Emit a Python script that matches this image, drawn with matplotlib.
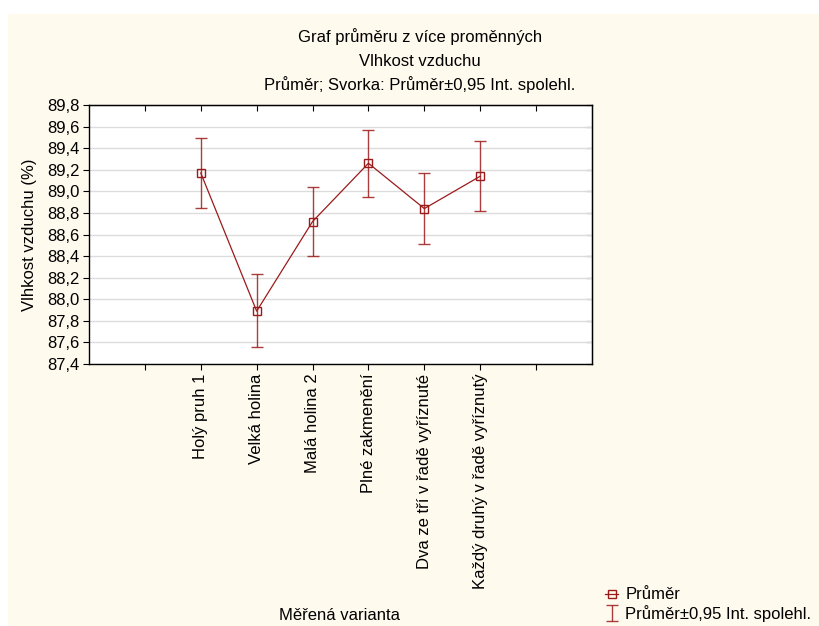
import matplotlib.pyplot as plt
from matplotlib.ticker import FuncFormatter
import numpy as np

plt.rcParams['font.family'] = ['Liberation Sans', 'DejaVu Sans']
plt.rcParams['font.size'] = 12

# data
categories = ['Holý pruh 1', 'Velká holina', 'Malá holina 2', 'Plné zakmenění',
              'Dva ze tří v řadě vyříznuté', 'Každý druhý v řadě vyříznutý']
means = [89.17, 87.89, 88.72, 89.26, 88.84, 89.14]
ci_low = [88.85, 87.56, 88.40, 88.95, 88.51, 88.82]
ci_high = [89.49, 88.23, 89.04, 89.57, 89.17, 89.47]
yticks = [87.4, 87.6, 87.8, 88.0, 88.2, 88.4, 88.6, 88.8, 89.0, 89.2, 89.4, 89.6, 89.8]

red = '#9b1b1b'
bg = '#fffaee'

fig = plt.figure(figsize=(8.2, 6.26), dpi=100, facecolor='white')
# cream panel (white border on the top and left)
fig.patches.append(plt.Rectangle((8 / 820, 0), 1, 1 - 14 / 626, transform=fig.transFigure,
                                 facecolor=bg, edgecolor='none', zorder=-10))

ax = fig.add_axes([89 / 820, 1 - 364 / 626, (592 - 89) / 820, (364 - 105) / 626])
ax.set_facecolor('white')

x = np.arange(2, 2 + len(categories))
yerr = [np.array(means) - np.array(ci_low), np.array(ci_high) - np.array(means)]

ax.plot(x, means, color=red, lw=0.9, marker='s', ms=6, mfc='none', mec=red, mew=1.0,
        zorder=4, label='Průměr')
eb = ax.errorbar(x, means, yerr=yerr, fmt='none', ecolor=red, elinewidth=1.0,
                 capsize=4, capthick=1.0, alpha=0.85, zorder=3,
                 label='Průměr±0,95 Int. spolehl.')

ax.set_xlim(0, 9)
ax.set_ylim(87.4, 89.8)
ax.set_yticks(yticks)
ax.yaxis.set_major_formatter(FuncFormatter(lambda v, p: f'{v:.1f}'.replace('.', ',')))
ax.set_xticks(np.arange(1, 9))
ax.set_xticklabels([''] + categories + [''], rotation=90)
ax.grid(axis='y', color='#dcdcdc', lw=1.0)
ax.set_axisbelow(True)
ax.tick_params(axis='both', direction='out', length=4, width=0.8, color='black', pad=3)
for s in ax.spines.values():
    s.set_color('black')
    s.set_linewidth(1.0)

sec_y = ax.secondary_yaxis('right')
sec_y.set_yticks(yticks)
sec_y.tick_params(direction='in', length=4, width=0.8, labelright=False)
sec_x = ax.secondary_xaxis('top')
sec_x.set_xticks(np.arange(1, 9))
sec_x.tick_params(direction='in', length=4, width=0.8, labeltop=False)

ax.set_ylabel('Vlhkost vzduchu (%)')
ax.yaxis.set_label_coords((37 - 89) / 503, 0.5)

fig.text(420 / 820, 1 - 37 / 626, 'Graf průměru z více proměnných', ha='center', va='center')
fig.text(420 / 820, 1 - 61 / 626, 'Vlhkost vzduchu', ha='center', va='center')
fig.text(420 / 820, 1 - 85 / 626, 'Průměr; Svorka: Průměr±0,95 Int. spolehl.', ha='center', va='center')
fig.text(340 / 820, 1 - 616 / 626, 'Měřená varianta', ha='center', va='center')

fig.legend(handles=[ax.lines[0], eb], labels=['Průměr', 'Průměr±0,95 Int. spolehl.'],
           loc='lower left', bbox_to_anchor=(596 / 820, -5 / 626), frameon=False,
           handlelength=0.8, handletextpad=0.4, labelspacing=0.15, borderaxespad=0.15)

fig.savefig('out.png', dpi=100, facecolor='white')
